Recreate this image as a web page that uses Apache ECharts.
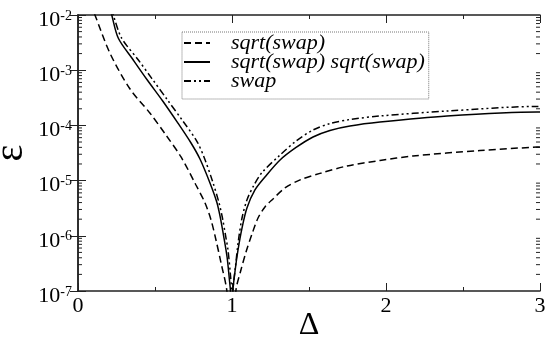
<!DOCTYPE html>
<html>
<head>
<meta charset="utf-8">
<script src="https://cdn.jsdelivr.net/npm/echarts@6/dist/echarts.min.js"></script>
<style>
  html, body { margin:0; padding:0; background:#fff; }
  #chart { width:545px; height:342px; }
</style>
</head>
<body>
<div id="chart"></div>
<script>
// === Datos: [Δ, ε] ===
const SQRT_SWAP = [
  [0.08,1.6e-2],[0.110,1.0e-2],[0.208,2.02e-3],[0.338,4.56e-4],[0.468,1.66e-4],[0.571,6.70e-5],
  [0.669,2.68e-5],[0.766,8.32e-6],[0.825,3.93e-6],[0.864,1.93e-6],[0.896,8.39e-7],[0.929,3.21e-7],
  [0.966,1.04e-7],[1.0,1e-8],[1.026,1.05e-7],[1.058,2.40e-7],[1.091,5.09e-7],[1.130,1.08e-6],
  [1.169,2.10e-6],[1.214,3.33e-6],[1.266,4.65e-6],[1.344,7.35e-6],[1.442,1.03e-5],[1.571,1.35e-5],
  [1.747,1.84e-5],[1.961,2.31e-5],[2.175,2.79e-5],[2.610,3.51e-5],[2.981,4.06e-5],[3.0,4.07e-5]
];
const SQRT_SQRT = [
  [0.20,1.55e-2],[0.219,1.0e-2],[0.262,3.79e-3],[0.359,1.53e-3],[0.45,6.64e-4],[0.55,2.77e-4],
  [0.649,1.10e-4],[0.734,4.80e-5],[0.792,2.46e-5],[0.857,9.06e-6],[0.901,4.09e-6],[0.922,2.29e-6],
  [0.948,9.12e-7],[0.968,4.13e-7],[0.984,1.52e-7],[0.990,1.0e-7],[1.0,1e-8],[1.006,1.0e-7],
  [1.019,2.21e-7],[1.039,5.53e-7],[1.065,1.38e-6],[1.097,3.19e-6],[1.149,6.76e-6],[1.214,1.16e-5],
  [1.312,2.36e-5],[1.416,3.98e-5],[1.526,6.17e-5],[1.636,8.09e-5],[1.766,9.75e-5],[1.961,1.15e-4],
  [2.396,1.48e-4],[2.981,1.75e-4],[3.0,1.75e-4]
];
const SWAP = [
  [0.21,1.6e-2],[0.229,1.0e-2],[0.284,3.79e-3],[0.392,1.53e-3],[0.480,7.05e-4],[0.580,2.92e-4],
  [0.680,1.21e-4],[0.771,5.21e-5],[0.818,2.68e-5],[0.873,9.84e-6],[0.916,3.93e-6],[0.938,2.10e-6],
  [0.961,9.12e-7],[0.974,5.53e-7],[0.990,1.95e-7],[0.997,1.0e-7],[1.0,1e-8],[1.006,1.0e-7],
  [1.023,2.84e-7],[1.042,8.39e-7],[1.065,2.10e-6],[1.097,4.46e-6],[1.143,8.32e-6],[1.195,1.40e-5],
  [1.312,2.91e-5],[1.416,5.21e-5],[1.526,8.26e-5],[1.636,1.08e-4],[1.766,1.28e-4],[1.961,1.48e-4],
  [2.396,1.82e-4],[2.981,2.20e-4],[3.0,2.20e-4]
];
const NAMES = ['sqrt(swap)', 'sqrt(swap) sqrt(swap)', 'swap'];

// marcas menores del eje log (2..9 × 10^n)
const MINOR_TICKS = [
  2e-7,3e-7,4e-7,5e-7,6e-7,7e-7,8e-7,9e-7,
  2e-6,3e-6,4e-6,5e-6,6e-6,7e-6,8e-6,9e-6,
  2e-5,3e-5,4e-5,5e-5,6e-5,7e-5,8e-5,9e-5,
  2e-4,3e-4,4e-4,5e-4,6e-4,7e-4,8e-4,9e-4,
  2e-3,3e-3,4e-3,5e-3,6e-3,7e-3,8e-3,9e-3
];

const serif = "'Liberation Serif', 'Times New Roman', serif";
const ink = '#222';
const axLine = { lineStyle:{ color:ink, width:1.5 } };

const axisX = (pos, labels) => ({
  type:'value', position:pos, min:0, max:3, interval:1,
  axisLine:axLine, splitLine:{ show:false },
  axisTick:{ inside:true, length:8, lineStyle:{ color:ink, width:1 } },
  minorTick:{ show:true, splitNumber:2, length:4, lineStyle:{ color:ink, width:1 } },
  axisLabel:{ show:labels, color:'#000', fontFamily:serif, fontSize:22, margin:4 }
});
const axisY = (pos, labels) => ({
  type:'log', logBase:10, position:pos, min:1e-7, max:1e-2,
  axisLine:axLine, splitLine:{ show:false },
  axisTick:{ inside:true, length:8, lineStyle:{ color:ink, width:1 } },
  axisLabel:{ show:labels, margin:6, padding:[10,0,0,0],
    formatter:v => `{b|10}{s|${Math.round(Math.log10(v))}}`,
    rich:{ b:{ fontFamily:serif, fontSize:22, color:'#000', verticalAlign:'bottom' },
           s:{ fontFamily:serif, fontSize:14, color:'#000', verticalAlign:'top' } } }
});

const lineSeries = (name, data, dash) => ({
  name, type:'line', data, symbol:'none', showSymbol:false, smooth:0.3, clip:true,
  lineStyle:{ color:'#000', width:1.5, type:dash }, itemStyle:{ color:'#000' }
});

const chart = echarts.init(document.getElementById('chart'), null, { renderer:'canvas' });
chart.setOption({
  animation:false,
  grid:{ left:78, right:5, top:15, bottom:51, containLabel:false, outerBoundsMode:'none' },
  xAxis:[
    { ...axisX('bottom', true), name:'Δ', nameLocation:'middle', nameGap:19, nameMoveOverlap:false,
      nameTextStyle:{ fontFamily:serif, fontSize:32, color:'#000' } },
    axisX('top', false)
  ],
  yAxis:[
    { ...axisY('left', true), name:'ε', nameLocation:'middle', nameGap:47, nameRotate:90, nameMoveOverlap:false,
      nameTextStyle:{ fontFamily:serif, fontSize:40, color:'#000' } },
    axisY('right', false)
  ],
  legend:{
    data:NAMES, orient:'vertical', left:182, top:32, itemGap:-3, itemWidth:26, itemHeight:14,
    padding:[0,4,7,1], borderColor:'#777', borderWidth:1, borderType:'dotted',
    itemStyle:{ opacity:0 },   // oculta el círculo del icono, queda sólo el trazo
    textStyle:{ fontFamily:serif, fontStyle:'italic', fontSize:22, color:'#000', padding:[0,0,0,16] }
  },
  series:[
    lineSeries(NAMES[0], SQRT_SWAP, [7,4]),
    lineSeries(NAMES[1], SQRT_SQRT, 'solid'),
    lineSeries(NAMES[2], SWAP, [7,3,2,3,2,3]),
    { type:'custom', silent:true, clip:true, data:MINOR_TICKS.map(v => [0, v]),
      renderItem:(params, api) => {
        const v = api.value(1);
        const a = api.coord([0, v]), b = api.coord([3, v]);
        const st = { stroke:ink, lineWidth:1 };
        return { type:'group', children:[
          { type:'line', shape:{ x1:a[0], y1:a[1], x2:a[0]+4, y2:a[1] }, style:st },
          { type:'line', shape:{ x1:b[0], y1:b[1], x2:b[0]-4, y2:b[1] }, style:st }
        ]};
      } }
  ]
});
</script>
</body>
</html>
